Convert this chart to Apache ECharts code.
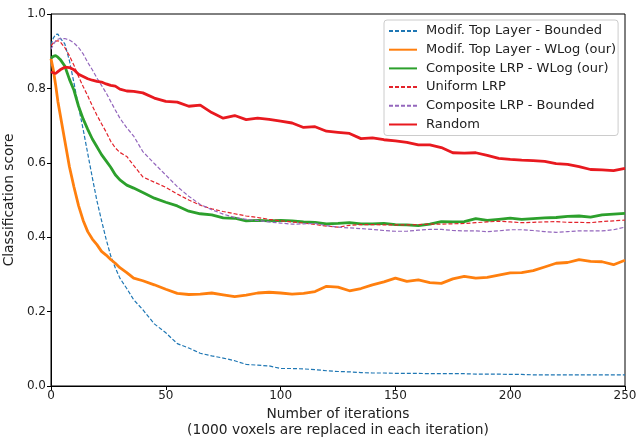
<!DOCTYPE html>
<html>
<head>
<meta charset="utf-8">
<script src="https://cdn.jsdelivr.net/npm/echarts@6/dist/echarts.min.js"></script>
<style>
  html, body { margin: 0; padding: 0; background: #fff; }
  #chart { width: 636px; height: 441px; }
</style>
</head>
<body>
<div id="chart"></div>
<script>
const iters = [0, 1, 2, 3, 4, 6, 8, 10, 12, 14, 16, 18, 20, 22, 24, 26, 28, 30, 33, 36, 40,
  45, 50, 55, 60, 65, 70, 75, 80, 85, 90, 95, 100, 105, 110, 115, 120, 125, 130, 135, 140, 145,
  150, 155, 160, 165, 170, 175, 180, 185, 190, 195, 200, 205, 210, 215, 220, 225, 230, 235, 240, 245, 250];

const topBounded = [0.917, 0.935, 0.945, 0.946, 0.935, 0.92, 0.875, 0.815, 0.75, 0.69, 0.625, 0.56, 0.498, 0.445, 0.395, 0.35, 0.318, 0.29, 0.262, 0.232, 0.205,
  0.167, 0.143, 0.114, 0.102, 0.088, 0.081, 0.075, 0.068, 0.058, 0.056, 0.054, 0.047, 0.047, 0.046, 0.044, 0.041, 0.039, 0.038, 0.036, 0.035, 0.035,
  0.034, 0.034, 0.034, 0.033, 0.033, 0.033, 0.033, 0.032, 0.032, 0.032, 0.031, 0.031, 0.030, 0.030, 0.030, 0.030, 0.030, 0.030, 0.030, 0.030, 0.030];

const topWLog = [0.88, 0.85, 0.81, 0.765, 0.73, 0.66, 0.59, 0.535, 0.485, 0.445, 0.415, 0.395, 0.38, 0.362, 0.352, 0.34, 0.33, 0.318, 0.305, 0.29, 0.283,
  0.272, 0.26, 0.249, 0.246, 0.247, 0.25, 0.245, 0.24, 0.244, 0.25, 0.252, 0.25, 0.247, 0.249, 0.254, 0.268, 0.266, 0.256, 0.262, 0.272, 0.28,
  0.29, 0.281, 0.285, 0.278, 0.276, 0.288, 0.295, 0.29, 0.292, 0.298, 0.304, 0.305, 0.31, 0.32, 0.33, 0.332, 0.34, 0.335, 0.334, 0.326, 0.338];

const compWLog = [0.881, 0.886, 0.888, 0.884, 0.878, 0.86, 0.825, 0.795, 0.752, 0.718, 0.69, 0.664, 0.643, 0.622, 0.605, 0.588, 0.568, 0.554, 0.54, 0.532, 0.52,
  0.505, 0.494, 0.484, 0.47, 0.463, 0.46, 0.452, 0.451, 0.444, 0.445, 0.444, 0.445, 0.444, 0.441, 0.44, 0.436, 0.437, 0.439, 0.436, 0.436, 0.437,
  0.434, 0.433, 0.431, 0.435, 0.442, 0.441, 0.442, 0.45, 0.445, 0.448, 0.451, 0.448, 0.45, 0.452, 0.453, 0.456, 0.457, 0.454, 0.46, 0.462, 0.464];

const uniform = [0.915, 0.922, 0.927, 0.928, 0.925, 0.91, 0.888, 0.862, 0.832, 0.805, 0.78, 0.753, 0.728, 0.705, 0.683, 0.658, 0.64, 0.628, 0.617, 0.593, 0.562,
  0.548, 0.534, 0.516, 0.5, 0.486, 0.476, 0.469, 0.463, 0.457, 0.453, 0.448, 0.444, 0.441, 0.438, 0.434, 0.43, 0.427, 0.432, 0.434, 0.434, 0.433,
  0.433, 0.433, 0.434, 0.435, 0.435, 0.436, 0.437, 0.439, 0.441, 0.443, 0.441, 0.439, 0.44, 0.441, 0.442, 0.44, 0.44, 0.439, 0.442, 0.444, 0.446];

const compBounded = [0.905, 0.918, 0.927, 0.932, 0.934, 0.934, 0.93, 0.922, 0.91, 0.893, 0.87, 0.85, 0.828, 0.808, 0.788, 0.765, 0.742, 0.72, 0.694, 0.672, 0.63,
  0.598, 0.567, 0.536, 0.51, 0.488, 0.474, 0.462, 0.453, 0.448, 0.445, 0.441, 0.438, 0.435, 0.436, 0.437, 0.431, 0.427, 0.425, 0.423, 0.421, 0.418,
  0.416, 0.416, 0.419, 0.421, 0.421, 0.418, 0.417, 0.417, 0.415, 0.417, 0.42, 0.42, 0.418, 0.415, 0.413, 0.415, 0.417, 0.417, 0.417, 0.42, 0.427];

const random = [0.845, 0.842, 0.84, 0.845, 0.85, 0.857, 0.856, 0.85, 0.838, 0.832, 0.826, 0.822, 0.819, 0.817, 0.812, 0.808, 0.806, 0.798, 0.793, 0.792, 0.788,
  0.774, 0.765, 0.763, 0.752, 0.755, 0.735, 0.72, 0.727, 0.716, 0.72, 0.717, 0.712, 0.707, 0.695, 0.697, 0.685, 0.682, 0.679, 0.665, 0.667, 0.662,
  0.659, 0.655, 0.648, 0.648, 0.641, 0.627, 0.626, 0.627, 0.62, 0.612, 0.609, 0.607, 0.606, 0.604, 0.598, 0.596, 0.59, 0.582, 0.581, 0.579, 0.585];

const FONT = 'DejaVu Sans';
const pairs = vals => iters.map((x, i) => [x, vals[i]]);

function line(name, vals, color, width, dashed) {
  return {
    name: name,
    type: 'line',
    data: pairs(vals),
    showSymbol: false,
    symbol: 'none',
    lineStyle: { color: color, width: width, type: dashed ? [4, 2] : 'solid' },
    itemStyle: { color: color },
    emphasis: { disabled: true },
    animation: false
  };
}

const chart = echarts.init(document.getElementById('chart'));

chart.setOption({
  backgroundColor: '#fff',
  textStyle: { fontFamily: FONT },
  grid: {
    left: 51, right: 11, top: 14, bottom: 55,
    containLabel: false, outerBoundsMode: 'none',
    show: true, borderColor: '#000', borderWidth: 1
  },
  legend: {
    orient: 'vertical',
    left: 384, top: 20,
    padding: [4, 2, 4, 4],
    itemWidth: 28, itemHeight: 14, itemGap: 4.7,
    itemStyle: { opacity: 0 },
    backgroundColor: '#fff',
    borderColor: '#ccc', borderWidth: 1, borderRadius: 3,
    textStyle: { fontFamily: FONT, fontSize: 13, lineHeight: 14, color: '#222', padding: [0, 0, 0, 4] },
    data: ['Modif. Top Layer - Bounded', 'Modif. Top Layer - WLog (our)', 'Composite LRP - WLog (our)',
      'Uniform LRP', 'Composite LRP - Bounded', 'Random']
  },
  xAxis: {
    type: 'value', min: 0, max: 250, interval: 50,
    name: 'Number of iterations\n(1000 voxels are replaced in each iteration)',
    nameLocation: 'middle', nameGap: 19,
    nameTextStyle: { fontFamily: FONT, fontSize: 13.8, color: '#222', lineHeight: 16 },
    axisLine: { lineStyle: { color: '#000', width: 1 } },
    axisTick: { inside: false, length: 4, lineStyle: { color: '#000' } },
    axisLabel: { fontFamily: FONT, fontSize: 12, color: '#222', margin: 4 },
    splitLine: { show: false }
  },
  yAxis: {
    type: 'value', min: 0, max: 1, interval: 0.2,
    name: 'Classification score',
    nameLocation: 'middle', nameGap: 34,
    nameTextStyle: { fontFamily: FONT, fontSize: 13.8, color: '#222' },
    axisLine: { show: true, lineStyle: { color: '#000', width: 1 } },
    axisTick: { show: true, inside: false, length: 4, lineStyle: { color: '#000' } },
    axisLabel: { fontFamily: FONT, fontSize: 12, color: '#222', margin: 5, formatter: v => v.toFixed(1) },
    splitLine: { show: false }
  },
  series: [
    line('Modif. Top Layer - Bounded', topBounded, '#1f77b4', 1.2, true),
    line('Modif. Top Layer - WLog (our)', topWLog, '#ff7f0e', 2.8, false),
    line('Composite LRP - WLog (our)', compWLog, '#2ca02c', 2.8, false),
    line('Uniform LRP', uniform, '#e3232b', 1.2, true),
    line('Composite LRP - Bounded', compBounded, '#9467bd', 1.2, true),
    line('Random', random, '#e8191f', 2.8, false)
  ]
});
</script>
</body>
</html>
